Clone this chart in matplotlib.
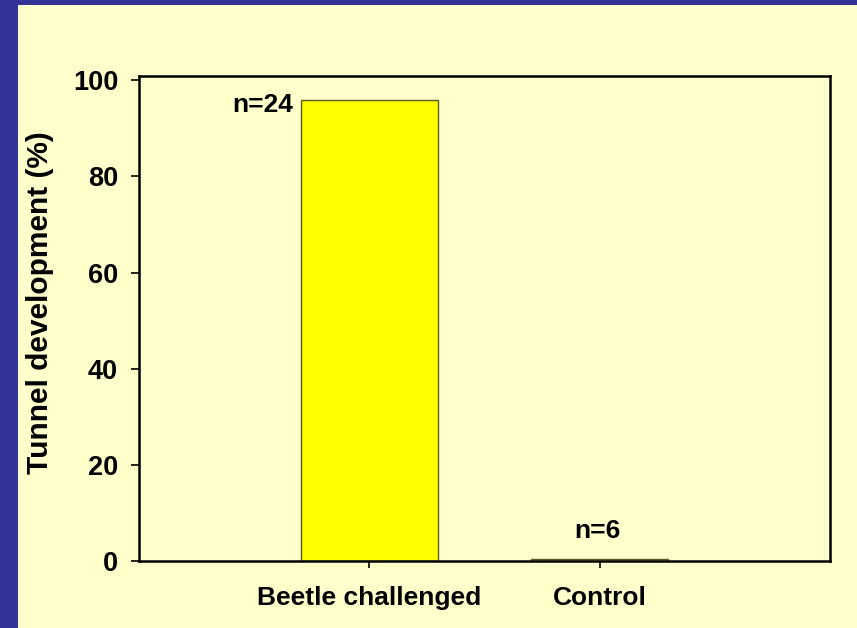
import matplotlib
matplotlib.use("Agg")
import matplotlib.pyplot as plt
from matplotlib.patches import Rectangle

categories = ["Beetle challenged", "Control"]
values = [95.83, 0.4]
n_labels = ["n=24", "n=6"]
yticks = [0, 20, 40, 60, 80, 100]

BG = "#FFFFCC"
BLUE = "#333399"
FONT = "Liberation Sans"

fig = plt.figure(figsize=(8.57, 6.28), dpi=100, facecolor=BG)
# blue border strips (left and top)
fig.patches.append(Rectangle((0, 0), 18/857, 1, transform=fig.transFigure,
                             facecolor=BLUE, edgecolor="none", zorder=0))
fig.patches.append(Rectangle((0, 1-5/628), 1, 5/628, transform=fig.transFigure,
                             facecolor=BLUE, edgecolor="none", zorder=0))

ax = fig.add_axes([139/857, 1-561/628, (830-139)/857, (561-76)/628])
ax.set_facecolor(BG)
x = [1, 2]
ax.bar(x, values, width=0.595, color="#FFFF00", edgecolor="#5a5a20", linewidth=1.0, zorder=2)
ax.set_xlim(0, 3)
ax.set_ylim(0, 100.9)
ax.set_xticks(x)
ax.set_xticklabels(categories)
ax.set_yticks(yticks)
for s in ax.spines.values():
    s.set_linewidth(1.8)
    s.set_color("black")
ax.tick_params(axis="y", length=6, width=1.2, pad=9, labelsize=19.5)
ax.tick_params(axis="x", length=5, width=1.2, pad=13, labelsize=19)
for lab in ax.get_xticklabels() + ax.get_yticklabels():
    lab.set_fontfamily(FONT)
    lab.set_fontweight("bold")

# n labels
ax.annotate(n_labels[0], xy=(x[0]-0.2975, values[0]), xytext=(-8, -5),
            textcoords="offset pixels", ha="right", va="center",
            fontsize=19, fontweight="bold", fontfamily=FONT)
ax.annotate(n_labels[1], xy=(x[1], values[1]), xytext=(-2, 28),
            textcoords="offset pixels", ha="center", va="center",
            fontsize=19, fontweight="bold", fontfamily=FONT)

fig.text(40/857, 1-303/628, "Tunnel development (%)", rotation=90,
         ha="center", va="center", fontsize=21.5, fontweight="bold", fontfamily=FONT)

fig.savefig("out.png", dpi=100, facecolor=BG)
